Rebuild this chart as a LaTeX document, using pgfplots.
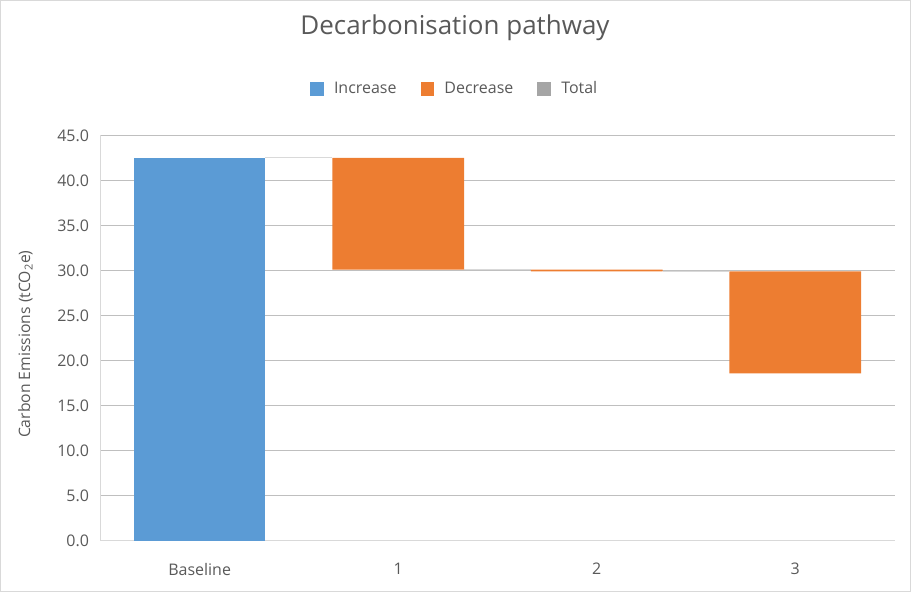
\documentclass[border=0pt]{standalone}
\usepackage{pgfplots}
\pgfplotsset{compat=1.18}
\usepackage{fontspec}
\setmainfont{Open Sans}
\definecolor{incblue}{HTML}{5B9BD5}
\definecolor{decorange}{HTML}{ED7D31}
\definecolor{totgray}{HTML}{A5A5A5}
\definecolor{txt}{HTML}{595959}
\definecolor{grid}{HTML}{D9D9D9}
\begin{document}
\begin{tikzpicture}[x=1pt,y=1pt]
\draw[grid, line width=0.75pt, use as bounding box] (-75,-38.25) rectangle (608.25,405.75);
\begin{axis}[
  at={(0,0)}, anchor=south west,
  scale only axis, width=596.25pt, height=304.5pt,
  ybar stacked, bar width=0.663,
  xmin=-0.5, xmax=3.5, ymin=0, ymax=45,
  xtick={0,1,2,3}, xticklabels={Baseline,1,2,3},
  ytick={0,5,...,45},
  xmajorgrids=false,
  yticklabel style={xshift=-5pt, /pgf/number format/.cd, fixed, fixed zerofill, precision=1, assume math mode=true},
  ticklabel style={font=\fontsize{12}{14}\selectfont, text=txt},
  xticklabel style={yshift=-13pt},
  tick style={draw=none},
  major tick length=0pt,
  ymajorgrids, grid style={grid, line width=0.75pt},
  axis line style={grid, line width=0.75pt},
  axis x line*=bottom, axis y line*=left,
  ylabel={Carbon Emissions (tCO\textsubscript{2}e)},
  ylabel style={font=\fontsize{11.8}{13}\selectfont, text=txt, at={(-56.25pt,0.485)}, anchor=center},
  title={Decarbonisation pathway},
  title style={font=\fontsize{19.5}{23}\selectfont, text=txt, at={(0.4465,1.2462)}, anchor=center},
  legend columns=3,
  legend style={draw=none, fill=none, at={(0.4465,1.1158)}, anchor=center,
    font=\fontsize{12}{14}\selectfont, text=txt,
    /tikz/every odd column/.append style={column sep=6pt},
    /tikz/every even column/.append style={column sep=16pt}},
]
% invisible base
\addplot[draw=none, fill=none, forget plot] coordinates {(0,0) (1,30.1) (2,29.9) (3,18.6)};
% increase
\addplot[draw=none, fill=incblue, forget plot] coordinates {(0,42.5) (1,0) (2,0) (3,0)};
% decrease
\addplot[draw=none, fill=decorange, forget plot] coordinates {(0,0) (1,12.4) (2,0.2) (3,11.3)};
% connectors
\addplot[stack plots=false, sharp plot, no marks, draw=grid, line width=0.75pt, forget plot] coordinates {(0.3315,42.5) (0.6685,42.5)};
\addplot[stack plots=false, sharp plot, no marks, draw=grid, line width=0.75pt, forget plot] coordinates {(1.3315,30.1) (1.6685,30.1)};
\addplot[stack plots=false, sharp plot, no marks, draw=grid, line width=0.75pt, forget plot] coordinates {(2.3315,29.9) (2.6685,29.9)};
\addlegendimage{legend image code/.code={\fill[incblue] (0pt,-4.8pt) rectangle (9.6pt,4.8pt);}}\addlegendentry{Increase}
\addlegendimage{legend image code/.code={\fill[decorange] (0pt,-4.8pt) rectangle (9.6pt,4.8pt);}}\addlegendentry{Decrease}
\addlegendimage{legend image code/.code={\fill[totgray] (0pt,-4.8pt) rectangle (9.6pt,4.8pt);}}\addlegendentry{Total}
\end{axis}
\end{tikzpicture}
\end{document}
